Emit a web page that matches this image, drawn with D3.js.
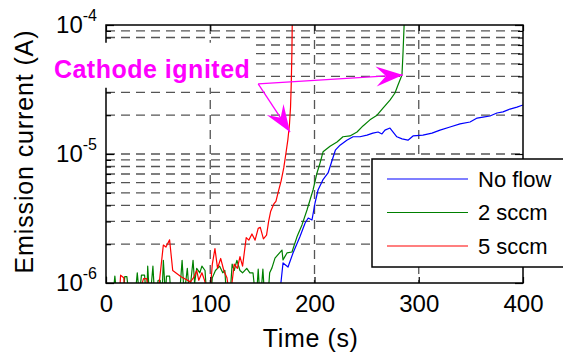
<!DOCTYPE html>
<html>
<head>
<meta charset="utf-8">
<script src="https://cdn.jsdelivr.net/npm/d3@7"></script>
<style>
  body { margin: 0; background: #fff; }
  svg { font-family: "Liberation Sans", Arial, sans-serif; }
</style>
</head>
<body>
<div id="chart"></div>
<script>
// time (s) and emission current (A)
const noFlowT = [166.5, 169.8, 174.6, 179.4, 186, 191, 194, 197.6, 200.5, 203.4, 208, 213, 217, 220, 224.5, 231, 237, 243.6, 250.4, 256, 261, 264.7, 267.6, 272.4, 279, 284, 289.7, 294.5, 304, 312.7, 320.4, 330, 339.6, 349.2, 356, 361.6, 368.3, 375, 380.8, 387.5, 394.2, 400];
const noFlowI = [0.8e-6, 1.43e-6, 1.33e-6, 1.71e-6, 2.28e-6, 2.92e-6, 3.19e-6, 3.08e-6, 4.17e-6, 5.26e-6, 6.3e-6, 7.13e-6, 8.98e-6, 1.07e-5, 1.17e-5, 1.28e-5, 1.36e-5, 1.36e-5, 1.40e-5, 1.45e-5, 1.48e-5, 1.43e-5, 1.53e-5, 1.59e-5, 1.36e-5, 1.31e-5, 1.28e-5, 1.38e-5, 1.40e-5, 1.45e-5, 1.53e-5, 1.62e-5, 1.71e-5, 1.77e-5, 1.90e-5, 1.93e-5, 1.97e-5, 2.08e-5, 2.12e-5, 2.23e-5, 2.31e-5, 2.40e-5];

const sccm2T = [0, 2, 6, 8.5, 11, 16, 18, 20, 23, 28, 30, 32, 34, 37, 39, 40, 42, 45, 47, 50, 52, 53.5, 55, 57, 58, 61, 63, 70, 73, 75, 78, 80, 83.5, 85, 87, 90, 92, 95, 97, 100, 102, 105, 109, 112, 114, 116, 119, 121, 123, 125.5, 128.5, 131, 135, 138, 141, 144, 146, 148, 150.5, 152.5, 155, 157,
  159.2, 162.1, 168.8, 169.8, 173.6, 178.4, 183.2, 188, 192.8, 195.7, 198.6, 202.4, 205.3, 208.2, 214.9, 221.6, 227.3, 234, 240.8, 246.5, 253.2, 260, 265.7, 272.4, 277.2, 280.1, 283.9, 284.9, 285.9, 286.3];
const sccm2I = [1.13e-6, 0.7e-6, 0.7e-6, 1.13e-6, 0.7e-6, 0.7e-6, 1.12e-6, 1.12e-6, 0.7e-6, 0.8e-6, 1.2e-6, 0.8e-6, 1.15e-6, 1.15e-6, 0.7e-6, 1.35e-6, 0.7e-6, 1.35e-6, 0.7e-6, 1.05e-6, 1.05e-6, 0.7e-6, 1.5e-6, 0.8e-6, 1.13e-6, 1.13e-6, 0.7e-6, 0.7e-6, 1.5e-6, 0.8e-6, 1.3e-6, 0.8e-6, 1.5e-6, 1.0e-6, 1.3e-6, 1.2e-6, 1.35e-6, 1.25e-6, 0.7e-6, 0.7e-6, 1.1e-6, 1.25e-6, 1.35e-6, 1.2e-6, 1.25e-6, 0.7e-6, 0.8e-6, 1.4e-6, 1.25e-6, 1.5e-6, 1.25e-6, 1.2e-6, 1.3e-6, 1.2e-6, 1.2e-6, 0.7e-6, 1.28e-6, 0.7e-6, 1.28e-6, 0.7e-6, 0.7e-6, 1.2e-6,
  1.31e-6, 1.56e-6, 1.80e-6, 1.51e-6, 1.71e-6, 1.74e-6, 2.28e-6, 2.82e-6, 3.68e-6, 4.4e-6, 5.26e-6, 7.13e-6, 8.5e-6, 1.04e-5, 1.15e-5, 1.24e-5, 1.36e-5, 1.38e-5, 1.48e-5, 1.65e-5, 1.84e-5, 2.0e-5, 2.27e-5, 2.62e-5, 2.97e-5, 3.43e-5, 4.1e-5, 6.07e-5, 9.7e-5, 1.3e-4];

const sccm5T = [0, 12, 14, 17, 19, 30, 33, 36, 39, 42, 49, 55, 57.5, 61, 64, 72, 81, 84, 87, 89, 92, 94, 96, 99, 102, 104.5, 107, 110, 113, 116, 119, 123, 126, 128.5, 131, 134.5, 137, 140, 143, 146, 148, 151, 154, 156, 158, 161, 163, 165, 168, 170.5, 172.5, 174.5, 176, 177, 177.7, 178.3, 178.8];
const sccm5I = [0.6e-6, 0.6e-6, 1.15e-6, 1.1e-6, 0.7e-6, 0.6e-6, 0.9e-6, 1.08e-6, 1.08e-6, 0.8e-6, 0.7e-6, 1.97e-6, 1.9e-6, 2.16e-6, 1.25e-6, 1.12e-6, 1.02e-6, 1.1e-6, 1.25e-6, 1.05e-6, 1.2e-6, 1.08e-6, 0.95e-6, 0.7e-6, 1.4e-6, 1.85e-6, 1.3e-6, 1.55e-6, 1.25e-6, 1.1e-6, 0.75e-6, 1.4e-6, 1.3e-6, 1.6e-6, 1.35e-6, 2.25e-6, 2.15e-6, 2.4e-6, 2.15e-6, 2.65e-6, 2.7e-6, 2.2e-6, 2.35e-6, 3.0e-6, 3.6e-6, 4.1e-6, 4.3e-6, 5.0e-6, 6.2e-6, 7.8e-6, 1.0e-5, 1.3e-5, 1.7e-5, 2.3e-5, 3.5e-5, 6e-5, 1.3e-4];

const seriesNames = ['No flow', '2 sccm', '5 sccm'];
const seriesColors = ['#0000ff', '#008000', '#ff0000'];
const xTicks = [0, 100, 200, 300, 400];
const yMajor = [1e-6, 1e-5, 1e-4];
const yExp = [-6, -5, -4];
const yMinor = [2e-6, 3e-6, 4e-6, 5e-6, 6e-6, 7e-6, 8e-6, 9e-6, 2e-5, 3e-5, 4e-5, 5e-5, 6e-5, 7e-5, 8e-5, 9e-5];

// annotation: label anchor and arrow tail / tips in data units
const noteText = 'Cathode ignited';
const noteAt = [138, 3.9e-5];
const arrowTail = [146, 3.5e-5];
const arrowTips = [[284.9, 4.1e-5], [176.5, 1.48e-5]];

const W = 563, H = 354;
const margin = { top: 25, right: 40, bottom: 71, left: 106 };
const width = W - margin.left - margin.right;
const height = H - margin.top - margin.bottom;

const svg = d3.select('#chart').append('svg')
  .attr('width', W)
  .attr('height', H);

const defs = svg.append('defs');
defs.append('clipPath').attr('id', 'plotclip')
  .append('rect').attr('width', width).attr('height', height);
defs.append('marker')
  .attr('id', 'head')
  .attr('markerUnits', 'userSpaceOnUse')
  .attr('viewBox', '-28 -11 29 22')
  .attr('refX', 0).attr('refY', 0)
  .attr('markerWidth', 29).attr('markerHeight', 22)
  .attr('orient', 'auto')
  .append('path')
  .attr('d', 'M0,0 L-27,-10 L-17,0 L-27,10 Z')
  .attr('fill', '#ff00ff');

const g = svg.append('g')
  .attr('transform', `translate(${margin.left},${margin.top})`);

const x = d3.scaleLinear().domain([0, 400]).range([0, width]);
const y = d3.scaleLog().domain([1e-6, 1e-4]).range([height, 0]);

// dashed grid
g.append('g')
  .selectAll('line')
  .data(xTicks.slice(1, -1))
  .join('line')
  .attr('x1', d => x(d)).attr('x2', d => x(d))
  .attr('y1', 0).attr('y2', height)
  .attr('stroke', '#555').attr('stroke-width', 1.3)
  .attr('stroke-dasharray', '9,6');

g.append('g')
  .selectAll('line')
  .data(yMinor.concat([1e-5]))
  .join('line')
  .attr('x1', 0).attr('x2', width)
  .attr('y1', d => y(d)).attr('y2', d => y(d))
  .attr('stroke', '#555').attr('stroke-width', 1.3)
  .attr('stroke-dasharray', '9,6');

// data lines
const series = [
  { t: noFlowT, v: noFlowI },
  { t: sccm2T, v: sccm2I },
  { t: sccm5T, v: sccm5I }
];
const line = d3.line()
  .x(d => x(d[0]))
  .y(d => y(d[1]));

g.append('g')
  .attr('clip-path', 'url(#plotclip)')
  .selectAll('path')
  .data(series)
  .join('path')
  .attr('d', s => line(s.t.map((t, i) => [t, s.v[i]])))
  .attr('fill', 'none')
  .attr('stroke', (s, i) => seriesColors[i])
  .attr('stroke-width', 1.2)
  .attr('stroke-linejoin', 'round');

// axes: ticks pointing inward on all four sides
const tickStyle = sel => {
  sel.select('.domain').remove();
  sel.selectAll('line').attr('stroke', '#000').attr('stroke-width', 1.2);
};

g.append('g')
  .attr('transform', `translate(0,${height})`)
  .call(d3.axisBottom(x).tickValues(xTicks).tickSize(-6).tickPadding(12))
  .call(tickStyle)
  .selectAll('text')
  .attr('font-size', 24)
  .attr('fill', '#000')
  .attr('font-family', '"Liberation Sans", Arial, sans-serif');

g.append('g')
  .call(d3.axisTop(x).tickValues(xTicks).tickSize(-6).tickFormat(''))
  .call(tickStyle);

g.append('g')
  .call(d3.axisLeft(y).tickValues(yMajor).tickSize(-8).tickFormat(''))
  .call(tickStyle);
g.append('g')
  .call(d3.axisLeft(y).tickValues(yMinor).tickSize(-5).tickFormat(''))
  .call(tickStyle);
g.append('g')
  .attr('transform', `translate(${width},0)`)
  .call(d3.axisRight(y).tickValues(yMajor).tickSize(-8).tickFormat(''))
  .call(tickStyle);
g.append('g')
  .attr('transform', `translate(${width},0)`)
  .call(d3.axisRight(y).tickValues(yMinor).tickSize(-5).tickFormat(''))
  .call(tickStyle);

// y labels as 10 with a superscript exponent
const yLab = g.append('g')
  .selectAll('text')
  .data(yMajor)
  .join('text')
  .attr('x', -9)
  .attr('y', d => y(d) + 8)
  .attr('text-anchor', 'end')
  .attr('font-size', 24)
  .attr('fill', '#000');
yLab.append('tspan').text('10');
yLab.append('tspan')
  .attr('font-size', 16)
  .attr('dy', -12)
  .text((d, i) => yExp[i]);

// frame
g.append('rect')
  .attr('width', width).attr('height', height)
  .attr('fill', 'none')
  .attr('stroke', '#000')
  .attr('stroke-width', 1.5);

// axis titles
svg.append('text')
  .attr('x', margin.left + x(196))
  .attr('y', 347)
  .attr('text-anchor', 'middle')
  .attr('font-size', 25)
  .attr('textLength', 95)
  .text('Time (s)');

svg.append('text')
  .attr('transform', 'translate(33,152) rotate(-90)')
  .attr('text-anchor', 'middle')
  .attr('font-size', 25)
  .attr('textLength', 243)
  .text('Emission current (A)');

// annotation: white-backed label, then arrows
const noteBox = g.append('rect').attr('fill', '#fff');
const note = g.append('text')
  .attr('x', x(noteAt[0]))
  .attr('y', y(noteAt[1]))
  .attr('text-anchor', 'end')
  .attr('font-size', 25)
  .attr('font-weight', 'bold')
  .attr('fill', '#ff00ff')
  .attr('textLength', 196)
  .text(noteText);
const bb = note.node().getBBox();
noteBox
  .attr('x', bb.x - 6)
  .attr('y', bb.y - 12)
  .attr('width', bb.width + 12)
  .attr('height', bb.height + 17);

g.append('g')
  .selectAll('line')
  .data(arrowTips)
  .join('line')
  .attr('x1', x(arrowTail[0])).attr('y1', y(arrowTail[1]))
  .attr('x2', d => x(d[0])).attr('y2', d => y(d[1]))
  .attr('stroke', '#ff00ff')
  .attr('stroke-width', 1.3)
  .attr('marker-end', 'url(#head)');

// legend
const leg = svg.append('g').attr('transform', 'translate(372,159)');
leg.append('rect')
  .attr('width', 200).attr('height', 108)
  .attr('fill', '#fff')
  .attr('stroke', '#000')
  .attr('stroke-width', 1.5);
const item = leg.selectAll('g.item')
  .data(seriesNames)
  .join('g')
  .attr('class', 'item')
  .attr('transform', (d, i) => `translate(0,${20 + i * 33.5})`);
item.append('line')
  .attr('x1', 15).attr('x2', 96)
  .attr('stroke', (d, i) => seriesColors[i])
  .attr('stroke-width', 1.2);
item.append('text')
  .attr('x', 106)
  .attr('dy', '0.36em')
  .attr('font-size', 22)
  .text(d => d);
</script>
</body>
</html>
